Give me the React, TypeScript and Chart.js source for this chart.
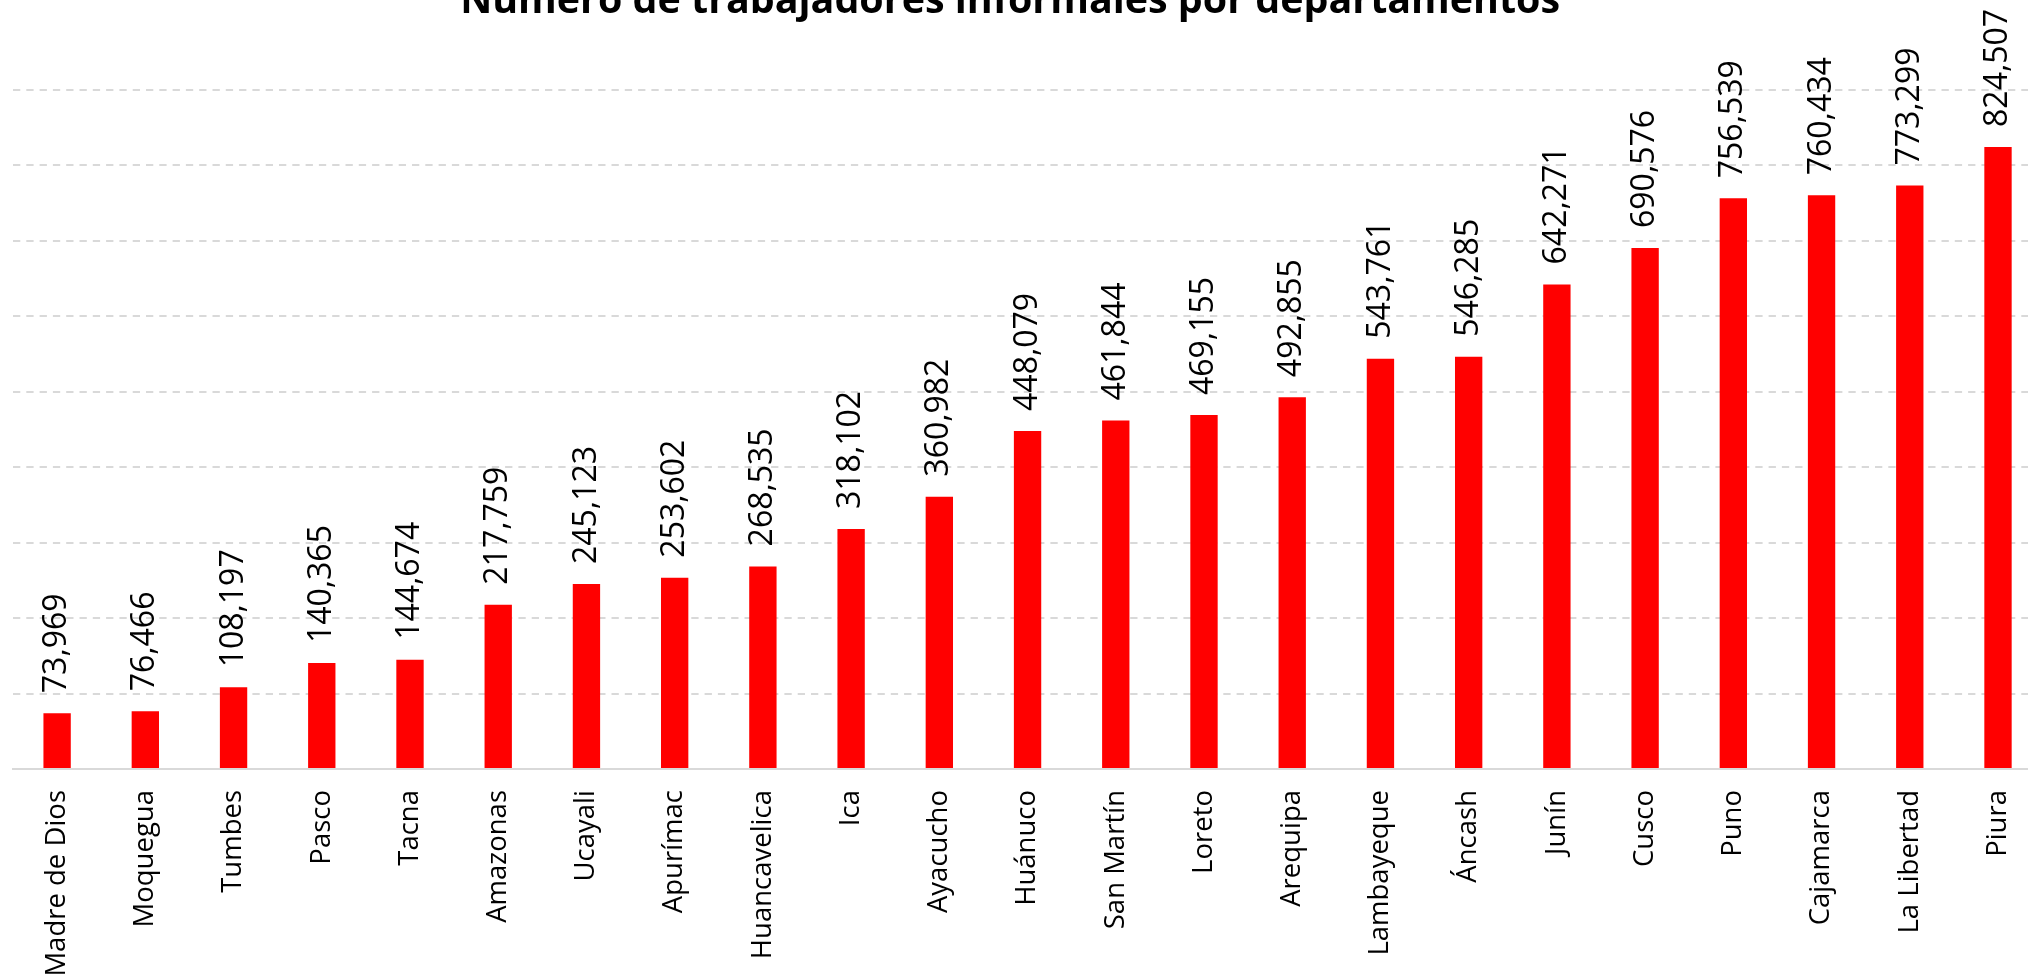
import React, { useEffect, useRef } from 'react';
import { Chart, registerables } from 'chart.js';

Chart.register(...registerables);

const titleText = 'Número de trabajadores informales por departamentos';

const categories = [
  'Madre de Dios', 'Moquegua', 'Tumbes', 'Pasco', 'Tacna', 'Amazonas', 'Ucayali',
  'Apurímac', 'Huancavelica', 'Ica', 'Ayacucho', 'Huánuco', 'San Martín', 'Loreto',
  'Arequipa', 'Lambayeque', 'Áncash', 'Junín', 'Cusco', 'Puno', 'Cajamarca',
  'La Libertad', 'Piura',
];

const values = [
  73969, 76466, 108197, 140365, 144674, 217759, 245123,
  253602, 268535, 318102, 360982, 448079, 461844, 469155,
  492855, 543761, 546285, 642271, 690576, 756539, 760434,
  773299, 824507,
];

const yMin = 0;
const yMax = 900000;
const yStep = 100000;

const CANVAS_W = 2052;
const CANVAS_H = 980;

export default function App() {
  const ref = useRef<HTMLCanvasElement>(null);

  useEffect(() => {
    const canvas = ref.current;
    if (!canvas) return;
    const fmt = (v: number) => v.toLocaleString('en-US');

    const dataLabels = {
      id: 'dataLabels',
      afterDatasetsDraw(chart: any) {
        const ctx = chart.ctx;
        const meta = chart.getDatasetMeta(0);
        ctx.save();
        ctx.font = '32px "Open Sans"';
        ctx.fillStyle = '#000000';
        ctx.textAlign = 'left';
        ctx.textBaseline = 'middle';
        meta.data.forEach((bar: any, i: number) => {
          ctx.save();
          ctx.translate(bar.x, bar.y - 20);
          ctx.rotate(-Math.PI / 2);
          ctx.fillText(fmt(values[i]), 0, 0);
          ctx.restore();
        });
        ctx.restore();
      },
    };

    const cutTitle = {
      id: 'cutTitle',
      afterDraw(chart: any) {
        const ctx = chart.ctx;
        const family = '"Open Sans", sans-serif';
        ctx.save();
        ctx.font = `bold 100px ${family}`;
        const w100 = ctx.measureText(titleText).width;
        const size = (100 * 1100) / w100;
        ctx.font = `bold ${size}px ${family}`;
        ctx.textAlign = 'center';
        ctx.textBaseline = 'alphabetic';
        ctx.fillStyle = '#000000';
        const { left, right } = chart.chartArea;
        ctx.fillText(titleText, left + (right - left) * 0.4914, 13);
        ctx.restore();
      },
    };

    const chart = new Chart(canvas, {
      type: 'bar',
      data: {
        labels: categories,
        datasets: [
          {
            data: values,
            backgroundColor: '#ff0000',
            borderWidth: 0,
            categoryPercentage: 1,
            barPercentage: 0.31,
          },
        ],
      },
      options: {
        responsive: false,
        animation: false,
        devicePixelRatio: 1,
        layout: { padding: { top: 90, left: 13, right: 0, bottom: 0 } },
        plugins: {
          legend: { display: false },
          title: { display: false },
          tooltip: { enabled: false },
        },
        scales: {
          x: {
            grid: { display: false, drawTicks: false },
            border: { display: true, color: '#d9d9d9', width: 2 },
            ticks: {
              autoSkip: false,
              maxRotation: 90,
              minRotation: 90,
              padding: 21,
              color: '#000000',
              font: { family: '"Open Sans"', size: 27.5 },
            },
            afterFit(scale: any) {
              scale.height = 211;
            },
          },
          y: {
            min: yMin,
            max: yMax,
            ticks: { display: false, stepSize: yStep },
            border: { display: false, dash: [7.3, 6] },
            grid: {
              color: '#d9d9d9',
              lineWidth: 2,
              drawTicks: false,
            },
          },
        },
      },
      plugins: [dataLabels, cutTitle],
    });

    return () => chart.destroy();
  }, []);

  return (
    <div
      style={{
        position: 'absolute',
        left: 0,
        top: 0,
        width: 2028,
        height: 980,
        overflow: 'hidden',
        background: '#ffffff',
      }}
    >
      <canvas
        ref={ref}
        width={CANVAS_W}
        height={CANVAS_H}
        style={{ display: 'block', width: CANVAS_W, height: CANVAS_H }}
      />
    </div>
  );
}
